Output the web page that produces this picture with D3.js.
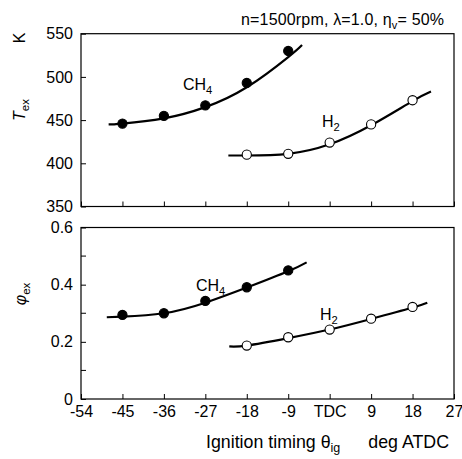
<!DOCTYPE html>
<html><head><meta charset="utf-8">
<script src="https://cdn.jsdelivr.net/npm/d3@7"></script>
<style>body{margin:0;background:#fff}svg{display:block;font-family:"Liberation Sans",Arial,sans-serif}</style>
</head><body><svg id="c" width="462" height="459"></svg>
<script>
// Data
const xTicks = [-54,-45,-36,-27,-18,-9,0,9,18,27];
const xTickLabels = ["-54","-45","-36","-27","-18","-9","TDC","9","18","27"];
const tTicks = [350,400,450,500,550];
const phiTicks = [0,0.2,0.4,0.6];
const phiMinor = [0.1,0.3,0.5];

const ch4X = [-45,-36,-27,-18,-9];
const ch4T = [446,455,467,493,530];
const ch4Phi = [0.294,0.300,0.343,0.391,0.450];
const h2X = [-18,-9,0,9,18];
const h2T = [410,411,424,445,473];
const h2Phi = [0.187,0.216,0.243,0.281,0.322];

// fitted curves
const ch4TFitX = [-48,-45,-36,-27,-18,-9,-6];
const ch4TFitY = [445,446,452,465,488,523,537];
const h2TFitX = [-22,-18,-9,0,9,18,22];
const h2TFitY = [409,409,411,422,444,472,483];
const ch4PhiFitX = [-48.4,-45,-36,-27,-18,-9,-5];
const ch4PhiFitY = [0.286,0.288,0.300,0.337,0.390,0.447,0.478];
const h2PhiFitX = [-21.8,-18,-9,0,9,18,21.2];
const h2PhiFitY = [0.184,0.187,0.213,0.243,0.280,0.320,0.337];

const svg = d3.select("#c");
const L = 81, R = 454;
const x = d3.scaleLinear().domain([-54,27]).range([L,R]);
const yT = d3.scaleLinear().domain([350,550]).range([206.5,33.7]);
const yP = d3.scaleLinear().domain([0,0.6]).range([399,227.5]);
const FS = 16;

function panel(y, yticks, fmt, minor){
  const top = y.range()[1], bot = y.range()[0];
  const g = svg.append("g");
  const ya = g.append("g").attr("transform",`translate(${L},0)`)
    .call(d3.axisLeft(y).tickValues(yticks).tickFormat(fmt).tickSize(-5).tickPadding(8));
  ya.select(".domain").remove();
  ya.selectAll("text").attr("font-size",FS).attr("fill","#000").attr("font-family","Liberation Sans, Arial, sans-serif");
  ya.selectAll("line").attr("stroke","#000");
  if (minor){
    g.append("g").selectAll("line").data(minor).join("line")
      .attr("x1",L).attr("x2",L+5).attr("y1",d=>y(d)).attr("y2",d=>y(d)).attr("stroke","#000");
  }
  const xa = g.append("g").attr("transform",`translate(0,${bot})`)
    .call(d3.axisBottom(x).tickValues(xTicks).tickSize(-5).tickPadding(7)
      .tickFormat((d,i)=>xTickLabels[i]));
  xa.select(".domain").remove();
  xa.selectAll("line").attr("stroke","#000");
  xa.selectAll("text").attr("font-size",FS).attr("fill","#000").attr("font-family","Liberation Sans, Arial, sans-serif");
  g.append("rect").attr("x",L).attr("y",top).attr("width",R-L).attr("height",bot-top)
    .attr("fill","none").attr("stroke","#000").attr("stroke-width",1.2);
  return xa;
}
const xaTop = panel(yT, tTicks, d=>d, null);
xaTop.selectAll("text").remove();
panel(yP, phiTicks, d=>d===0?"0":d3.format(".1f")(d), phiMinor);

function curve(y, fx, fy){
  const pts = fx.map((d,i)=>[d,fy[i]]);
  svg.append("path").datum(pts)
    .attr("d", d3.line().x(d=>x(d[0])).y(d=>y(d[1])).curve(d3.curveNatural))
    .attr("fill","none").attr("stroke","#000").attr("stroke-width",2.2);
}
function pts(y, xs, ys, filled){
  svg.append("g").selectAll("circle").data(xs).join("circle")
    .attr("cx",d=>x(d)).attr("cy",(d,i)=>y(ys[i])).attr("r",4.6)
    .attr("fill",filled?"#000":"#fff").attr("stroke","#000").attr("stroke-width",1.1);
}
curve(yT, ch4TFitX, ch4TFitY);
curve(yT, h2TFitX, h2TFitY);
curve(yP, ch4PhiFitX, ch4PhiFitY);
curve(yP, h2PhiFitX, h2PhiFitY);
pts(yT, ch4X, ch4T, true);
pts(yT, h2X, h2T, false);
pts(yP, ch4X, ch4Phi, true);
pts(yP, h2X, h2Phi, false);

function sublabel(xp, yp, main, sub, size){
  const t = svg.append("text").attr("x",xp).attr("y",yp).attr("font-size",size).attr("fill","#000");
  t.append("tspan").text(main);
  t.append("tspan").attr("font-size",size*0.7).attr("dy",4).text(sub);
  return t;
}
sublabel(183, 90, "CH", "4", FS);
sublabel(322, 127, "H", "2", FS);
sublabel(196, 291, "CH", "4", FS);
sublabel(320, 320, "H", "2", FS);

// title
const tt = svg.append("text").attr("x",241).attr("y",25).attr("font-size",16).attr("fill","#000")
  .attr("textLength",203).attr("lengthAdjust","spacing");
tt.append("tspan").text("n=1500rpm, λ=1.0, η");
tt.append("tspan").attr("font-size",11).attr("dy",4).text("v");
tt.append("tspan").attr("dy",-4).text("= 50%");

// y labels
svg.append("text").attr("transform","translate(25,38) rotate(-90)").attr("text-anchor","middle")
  .attr("font-size",FS).attr("fill","#000").text("K");
const te = svg.append("text").attr("transform","translate(25,110) rotate(-90)").attr("text-anchor","middle")
  .attr("font-size",FS).attr("fill","#000");
te.append("tspan").attr("font-style","italic").text("T");
te.append("tspan").attr("font-size",11.5).attr("dy",4).text("ex");
const ph = svg.append("text").attr("transform","translate(26,294) rotate(-90)").attr("text-anchor","middle")
  .attr("font-size",FS).attr("fill","#000");
ph.append("tspan").attr("font-style","italic").text("φ");
ph.append("tspan").attr("font-size",11.5).attr("dy",4).text("ex");

// x label
const xl = svg.append("text").attr("x",206).attr("y",448).attr("font-size",17.8).attr("fill","#000");
xl.append("tspan").text("Ignition timing θ");
xl.append("tspan").attr("font-size",12.5).attr("dy",4).text("ig");
svg.append("text").attr("x",449).attr("y",448).attr("text-anchor","end").attr("font-size",17.8).attr("fill","#000").text("deg ATDC");
</script></body></html>
